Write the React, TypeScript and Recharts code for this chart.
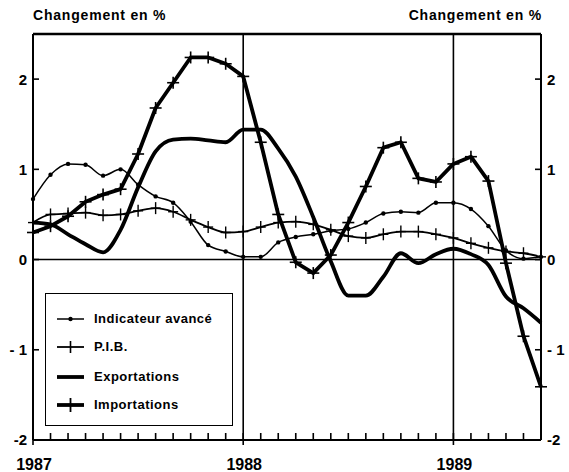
import React from 'react';
import { LineChart, Line, XAxis, YAxis, ReferenceLine } from 'recharts';

const months = [
  '1987-01', '1987-02', '1987-03', '1987-04', '1987-05', '1987-06',
  '1987-07', '1987-08', '1987-09', '1987-10', '1987-11', '1987-12',
  '1988-01', '1988-02', '1988-03', '1988-04', '1988-05', '1988-06',
  '1988-07', '1988-08', '1988-09', '1988-10', '1988-11', '1988-12',
  '1989-01', '1989-02', '1989-03', '1989-04', '1989-05', '1989-06',
];

const indicateur = [
  0.67, 0.94, 1.06, 1.05, 0.93, 1.0, 0.83, 0.7, 0.63, 0.42, 0.16, 0.09,
  0.03, 0.03, 0.19, 0.25, 0.28, 0.32, 0.34, 0.41, 0.51, 0.53, 0.52, 0.63,
  0.63, 0.56, 0.37, 0.1, 0.01, 0.03,
];

const pib = [
  0.41, 0.5, 0.51, 0.52, 0.49, 0.5, 0.54, 0.57, 0.53, 0.44, 0.36, 0.3,
  0.31, 0.36, 0.41, 0.42, 0.39, 0.33, 0.26, 0.24, 0.28, 0.31, 0.31, 0.28,
  0.24, 0.18, 0.13, 0.09, 0.07, 0.03,
];

const exportations = [
  0.41, 0.39, 0.28, 0.17, 0.08, 0.33, 0.8, 1.2, 1.33, 1.34, 1.32, 1.3,
  1.44, 1.44, 1.23, 0.92, 0.47, -0.02, -0.4, -0.4, -0.19, 0.07, -0.04, 0.06,
  0.12, 0.06, -0.06, -0.41, -0.54, -0.7,
];

const importations = [
  0.3, 0.37, 0.48, 0.64, 0.72, 0.78, 1.17, 1.68, 1.96, 2.24, 2.24, 2.17,
  2.03, 1.3, 0.5, -0.03, -0.15, 0.05, 0.41, 0.81, 1.24, 1.3, 0.9, 0.86,
  1.06, 1.14, 0.87, -0.04, -0.85, -1.41,
];

const yearTickIndex = [0, 12, 24];
const yearLabels = ['1987', '1988', '1989'];
const yTicks = [-2, -1, 0, 1, 2];
const yTickLabels = ['-2', '- 1', '0', '1', '2'];
const yDomain: [number, number] = [-2, 2.5];
const axisTitle = 'Changement en %';
const seriesNames = ['Indicateur avancé', 'P.I.B.', 'Exportations', 'Importations'];

const data = months.map((m, i) => ({
  i,
  m,
  indicateur: indicateur[i],
  pib: pib[i],
  exportations: exportations[i],
  importations: importations[i],
}));

const FONT = '"Liberation Sans", Arial, sans-serif';

const makeCross = (hw: number, hh: number, sw: number) => (props: any) => {
  const { cx, cy, index } = props;
  if (cx == null || cy == null) return <g key={`c-${index}`} />;
  return (
    <g key={`c-${index}`}>
      <line x1={cx - hw} x2={cx + hw} y1={cy} y2={cy} stroke="#000" strokeWidth={sw} />
      <line x1={cx} x2={cx} y1={cy - hh} y2={cy + hh} stroke="#000" strokeWidth={sw} />
    </g>
  );
};

// Every month: inward mark; at each year also an outward mark and the label
const XTick = (props: any) => {
  const { x, y, payload } = props;
  const idx = yearTickIndex.indexOf(payload.value);
  return (
    <g>
      <rect x={x - 0.8} y={y - 7} width={1.6} height={7} fill="#000" />
      {idx >= 0 && <rect x={x - 0.8} y={y} width={1.6} height={5} fill="#000" />}
      {idx >= 0 && (
        <text x={x + 1} y={y + 30} textAnchor="middle" fontFamily={FONT} fontWeight="bold" fontSize={16} fill="#000">
          {yearLabels[idx]}
        </text>
      )}
    </g>
  );
};

const YTickLeft = (props: any) => {
  const { x, y, payload } = props;
  const idx = yTicks.indexOf(payload.value);
  return (
    <g>
      <rect x={x} y={y - 0.8} width={6} height={1.6} fill="#000" />
      <text x={x - 6} y={y} dy="0.36em" textAnchor="end" fontFamily={FONT} fontWeight="bold" fontSize={15} fill="#000">
        {yTickLabels[idx]}
      </text>
    </g>
  );
};

const YTickRight = (props: any) => {
  const { x, y, payload } = props;
  const idx = yTicks.indexOf(payload.value);
  return (
    <g>
      <rect x={x - 6} y={y - 0.8} width={6} height={1.6} fill="#000" />
      <text x={x + 6} y={y} dy="0.36em" textAnchor="start" fontFamily={FONT} fontWeight="bold" fontSize={15} fill="#000">
        {yTickLabels[idx]}
      </text>
    </g>
  );
};

const LegendSample = ({ kind }: { kind: number }) => {
  const w = 27;
  return (
    <svg width={w} height={16} style={{ display: 'block' }}>
      {kind === 0 && (
        <g>
          <line x1={0} x2={w} y1={8} y2={8} stroke="#000" strokeWidth={1.5} />
          <circle cx={w / 2} cy={8} r={2.2} fill="#000" />
        </g>
      )}
      {kind === 1 && (
        <g>
          <line x1={0} x2={w} y1={8} y2={8} stroke="#000" strokeWidth={1.8} />
          <line x1={w / 2} x2={w / 2} y1={2} y2={14} stroke="#000" strokeWidth={1.6} />
        </g>
      )}
      {kind === 2 && <line x1={0} x2={w} y1={8} y2={8} stroke="#000" strokeWidth={3.8} />}
      {kind === 3 && (
        <g>
          <line x1={0} x2={w} y1={8} y2={8} stroke="#000" strokeWidth={3.8} />
          <line x1={w / 2} x2={w / 2} y1={1} y2={15} stroke="#000" strokeWidth={1.8} />
        </g>
      )}
    </svg>
  );
};

const legendRowCenters = [26, 54, 84, 112];

export default function App() {
  return (
    <div style={{ position: 'absolute', left: 0, top: 0, width: 569, height: 472, background: '#fff' }}>
      <div
        style={{
          position: 'absolute', left: 33, top: 7, fontFamily: FONT, fontWeight: 'bold',
          fontSize: 14, letterSpacing: 0.8, lineHeight: '16px', whiteSpace: 'nowrap',
        }}
      >
        {axisTitle}
      </div>
      <div
        style={{
          position: 'absolute', right: 27, top: 7, fontFamily: FONT, fontWeight: 'bold',
          fontSize: 14, letterSpacing: 0.8, lineHeight: '16px', whiteSpace: 'nowrap',
        }}
      >
        {axisTitle}
      </div>
      <LineChart
        width={569}
        height={472}
        data={data}
        margin={{ top: 34, right: 0, bottom: 0, left: 0 }}
      >
        <XAxis
          dataKey="i"
          type="number"
          domain={[0, 29]}
          ticks={months.map((_, i) => i)}
          interval={0}
          minTickGap={0}
          height={32}
          tickSize={0}
          tickMargin={0}
          tickLine={false}
          axisLine={{ stroke: '#000', strokeWidth: 2 }}
          tick={XTick}
        />
        <YAxis
          yAxisId="left"
          orientation="left"
          type="number"
          domain={yDomain}
          ticks={yTicks}
          interval={0}
          width={33}
          tickSize={0}
          tickMargin={0}
          tickLine={false}
          axisLine={{ stroke: '#000', strokeWidth: 2 }}
          tick={YTickLeft}
          allowDataOverflow
        />
        <YAxis
          yAxisId="right"
          orientation="right"
          type="number"
          domain={yDomain}
          ticks={yTicks}
          interval={0}
          width={28}
          tickSize={0}
          tickMargin={0}
          tickLine={false}
          axisLine={{ stroke: '#000', strokeWidth: 2 }}
          tick={YTickRight}
          allowDataOverflow
        />
        <ReferenceLine yAxisId="left" y={2.5} stroke="#000" strokeWidth={2.5} />
        <ReferenceLine yAxisId="left" y={0} stroke="#000" strokeWidth={1.5} />
        <ReferenceLine yAxisId="left" x={12} stroke="#000" strokeWidth={1.6} />
        <ReferenceLine yAxisId="left" x={24} stroke="#000" strokeWidth={1.6} />
        <Line
          yAxisId="left"
          dataKey="indicateur"
          name={seriesNames[0]}
          type="monotone"
          stroke="#000"
          strokeWidth={1.5}
          dot={{ r: 2.2, fill: '#000', stroke: '#000', strokeWidth: 0 }}
          isAnimationActive={false}
        />
        <Line
          yAxisId="left"
          dataKey="pib"
          name={seriesNames[1]}
          type="monotone"
          stroke="#000"
          strokeWidth={1.8}
          dot={makeCross(5, 6, 1.4)}
          isAnimationActive={false}
        />
        <Line
          yAxisId="right"
          dataKey="exportations"
          name={seriesNames[2]}
          type="monotone"
          stroke="#000"
          strokeWidth={3.8}
          dot={false}
          isAnimationActive={false}
        />
        <Line
          yAxisId="right"
          dataKey="importations"
          name={seriesNames[3]}
          type="linear"
          stroke="#000"
          strokeWidth={3.8}
          strokeLinejoin="round"
          dot={makeCross(6, 6, 1.6)}
          isAnimationActive={false}
        />
      </LineChart>
      <div
        style={{
          position: 'absolute', left: 45, top: 293, width: 188, height: 133,
          boxSizing: 'border-box', border: '1.5px solid #000', background: '#fff',
        }}
      >
        {seriesNames.map((name, k) => (
          <div
            key={name}
            style={{ position: 'absolute', left: 11, top: legendRowCenters[k] - 9, height: 16, display: 'flex', alignItems: 'center' }}
          >
            <LegendSample kind={k} />
            <span
              style={{
                marginLeft: 10, fontFamily: FONT, fontWeight: 'bold', fontSize: 13,
                letterSpacing: 0.5, whiteSpace: 'nowrap', lineHeight: '16px',
              }}
            >
              {name}
            </span>
          </div>
        ))}
      </div>
    </div>
  );
}
